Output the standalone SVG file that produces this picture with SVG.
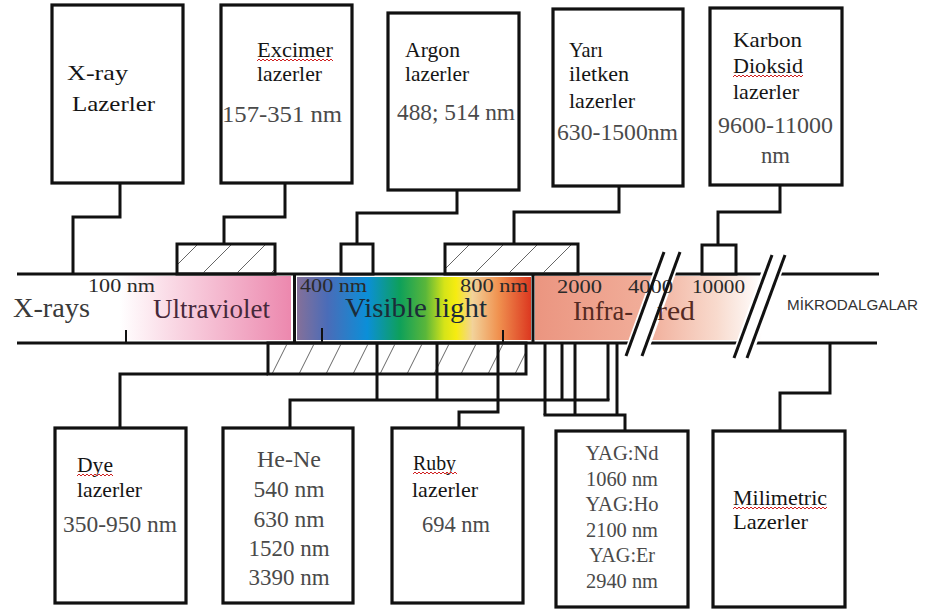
<svg xmlns="http://www.w3.org/2000/svg" width="929" height="609" viewBox="0 0 929 609" font-family="Liberation Serif, serif">
<style>
.box{fill:#fff;stroke:#111;stroke-width:3.2}
.ln{fill:none;stroke:#111;stroke-width:3}
.tk{fill:none;stroke:#111;stroke-width:2}
.sl{fill:none;stroke:#111;stroke-width:3}
.lb{font-size:21px;fill:#151515}
.nm{font-size:23px;fill:#4a4a4a}
.sm{font-size:19px;fill:#2a2a2a}
.bd{font-size:27px}
.sq{fill:none;stroke:#d02020;stroke-width:1}
</style>
<defs>
<linearGradient id="uv" x1="120" y1="0" x2="291" y2="0" gradientUnits="userSpaceOnUse">
<stop offset="0" stop-color="#ffffff"/><stop offset="0.35" stop-color="#f9d3e1"/><stop offset="1" stop-color="#ec88ae"/>
</linearGradient>
<linearGradient id="vis" x1="297" y1="0" x2="531" y2="0" gradientUnits="userSpaceOnUse">
<stop offset="0" stop-color="#857099"/><stop offset="0.13" stop-color="#4a6cb8"/><stop offset="0.3" stop-color="#0b8fd8"/><stop offset="0.44" stop-color="#0ea05a"/><stop offset="0.55" stop-color="#5ab63a"/><stop offset="0.63" stop-color="#d6e418"/><stop offset="0.68" stop-color="#f6ec10"/><stop offset="0.75" stop-color="#f2d29a"/><stop offset="0.86" stop-color="#f09250"/><stop offset="1" stop-color="#dc3820"/>
</linearGradient>
<linearGradient id="ir" x1="535" y1="0" x2="762" y2="0" gradientUnits="userSpaceOnUse">
<stop offset="0" stop-color="#eb9580"/><stop offset="0.5" stop-color="#f1ae9a"/><stop offset="0.8" stop-color="#f8dacd"/><stop offset="1" stop-color="#ffffff"/>
</linearGradient>
<pattern id="hatchT" patternUnits="userSpaceOnUse" width="34" height="34">
<line x1="0" y1="34" x2="34" y2="0" stroke="#666" stroke-width="1"/>
</pattern>
<pattern id="hatchB" patternUnits="userSpaceOnUse" width="27" height="54">
<line x1="0" y1="54" x2="27" y2="0" stroke="#666" stroke-width="1"/>
</pattern>
</defs>

<rect width="929" height="609" fill="#fff"/>

<!-- spectrum band -->
<g id="band" font-family="Liberation Serif, serif">
<rect x="120" y="276" width="171" height="64" fill="url(#uv)"/>
<rect x="297" y="277" width="234" height="63" fill="url(#vis)"/>
<rect x="535" y="276" width="227" height="64" fill="url(#ir)"/>
<line class="ln" x1="17" y1="274" x2="879" y2="274"/>
<line class="ln" x1="17" y1="343" x2="877" y2="343"/>
<line class="ln" x1="294.5" y1="274" x2="294.5" y2="343"/>
<line class="ln" x1="533" y1="274" x2="533" y2="343"/>
<line class="tk" x1="126" y1="330" x2="126" y2="343"/>
<line class="tk" x1="322" y1="328" x2="322" y2="342"/>
<line class="tk" x1="503" y1="330" x2="503" y2="342"/>
<polygon points="622,358 661,250 684,250 646,358" fill="#fff"/>
<polygon points="730,360 768,253 789,253 751,360" fill="#fff"/>
<text x="13" y="317" class="bd" fill="#3a3a3a" textLength="77" lengthAdjust="spacingAndGlyphs">X-rays</text>
<text x="88" y="292" class="sm" textLength="67" lengthAdjust="spacingAndGlyphs">100 nm</text>
<text x="153" y="318" class="bd" fill="#46283a" textLength="117" lengthAdjust="spacingAndGlyphs">Ultraviolet</text>
<text x="300" y="292" class="sm" textLength="67" lengthAdjust="spacingAndGlyphs">400 nm</text>
<text x="345" y="317" class="bd" fill="#1c2c38" textLength="142" lengthAdjust="spacingAndGlyphs">Visible light</text>
<text x="460" y="292" class="sm" textLength="68" lengthAdjust="spacingAndGlyphs">800 nm</text>
<text x="557" y="293" class="sm" fill="#3a3030" textLength="45" lengthAdjust="spacingAndGlyphs">2000</text>
<text x="628" y="293" class="sm" fill="#3a3030" textLength="45" lengthAdjust="spacingAndGlyphs">4000</text>
<text x="692" y="293" class="sm" fill="#3a3030" textLength="53" lengthAdjust="spacingAndGlyphs">10000</text>
<text x="573" y="320" class="bd" fill="#552a22"><tspan textLength="60" lengthAdjust="spacingAndGlyphs">Infra-</tspan><tspan x="657" textLength="38" lengthAdjust="spacingAndGlyphs">red</tspan></text>
<text x="787" y="310" font-family="Liberation Sans, sans-serif" font-size="15" fill="#333" textLength="131" lengthAdjust="spacingAndGlyphs">MİKRODALGALAR</text>
<line class="sl" x1="626" y1="356" x2="664" y2="252"/>
<line class="sl" x1="642" y1="356" x2="680" y2="252"/>
<line class="sl" x1="734" y1="358" x2="772" y2="255"/>
<line class="sl" x1="747" y1="358" x2="785" y2="255"/>
</g>

<!-- connectors -->
<g id="connectors">
<polyline class="ln" points="120,183 120,217 73,217 73,274"/>
<polyline class="ln" points="285,183 285,217 224,217 224,244"/>
<polyline class="ln" points="457,190 457,213 357,213 357,244"/>
<polyline class="ln" points="619,186 619,212 514,212 514,244"/>
<polyline class="ln" points="780,185 780,212 718,212 718,245"/>
<rect x="177" y="244" width="98" height="30" fill="url(#hatchT)" stroke="#111" stroke-width="3"/>
<rect x="341" y="244" width="32" height="30" fill="#fff" stroke="#111" stroke-width="3"/>
<rect x="445" y="244" width="133" height="30" fill="url(#hatchT)" stroke="#111" stroke-width="3"/>
<rect x="702" y="245" width="34" height="29" fill="#fff" stroke="#111" stroke-width="3"/>

<rect x="268" y="343" width="258" height="31" fill="url(#hatchB)" stroke="#111" stroke-width="3"/>
<polyline class="ln" points="120,428 120,374 268,374"/>
<line class="ln" x1="377" y1="343" x2="377" y2="400"/>
<line class="ln" x1="437" y1="343" x2="437" y2="400"/>
<line class="ln" x1="562" y1="343" x2="562" y2="400"/>
<line class="ln" x1="608" y1="343" x2="608" y2="400"/>
<polyline class="ln" points="290,428 290,400 609.5,400"/>
<polyline class="ln" points="498,343 498,412 459,412 459,428"/>
<line class="ln" x1="545" y1="343" x2="545" y2="415"/>
<line class="ln" x1="575" y1="343" x2="575" y2="415"/>
<line class="ln" x1="617" y1="343" x2="617" y2="415"/>
<polyline class="ln" points="543.5,415 625,415 625,431"/>
<polyline class="ln" points="830,343 830,393 780,393 780,431"/>
</g>

<!-- top boxes -->
<g id="xray-lasers" font-family="Liberation Serif, serif">
<rect class="box" x="52" y="5" width="131" height="178"/>
<text x="67" y="80" class="lb" font-size="22" style="font-size:22px" textLength="61" lengthAdjust="spacingAndGlyphs">X-ray</text>
<text x="72" y="111" class="lb" style="font-size:22px" textLength="83" lengthAdjust="spacingAndGlyphs">Lazerler</text>
</g>
<g id="excimer-lasers" font-family="Liberation Serif, serif">
<rect class="box" x="221" y="5" width="131" height="178"/>
<text x="257" y="57" class="lb" textLength="76" lengthAdjust="spacingAndGlyphs">Excimer</text>
<polyline class="sq" points="257,61 259,59 261,61 263,59 265,61 267,59 269,61 271,59 273,61 275,59 277,61 279,59 281,61 283,59 285,61 287,59 289,61 291,59 293,61 295,59 297,61 299,59 301,61 303,59 305,61 307,59 309,61 311,59 313,61 315,59 317,61 319,59 321,61 323,59 325,61 327,59 329,61 331,59 333,61"/>
<text x="257" y="81" class="lb" textLength="65" lengthAdjust="spacingAndGlyphs">lazerler</text>
<text x="222" y="122" class="nm" textLength="120" lengthAdjust="spacingAndGlyphs">157-351 nm</text>
</g>
<g id="argon-lasers" font-family="Liberation Serif, serif">
<rect class="box" x="388" y="13" width="131" height="177"/>
<text x="405" y="57" class="lb" textLength="55" lengthAdjust="spacingAndGlyphs">Argon</text>
<text x="405" y="81" class="lb" textLength="64" lengthAdjust="spacingAndGlyphs">lazerler</text>
<text x="397" y="120" class="nm" textLength="118" lengthAdjust="spacingAndGlyphs">488; 514 nm</text>
</g>
<g id="semiconductor-lasers" font-family="Liberation Serif, serif">
<rect class="box" x="553" y="9" width="130" height="177"/>
<text x="569" y="57" class="lb" textLength="34" lengthAdjust="spacingAndGlyphs">Yarı</text>
<text x="569" y="81" class="lb" textLength="60" lengthAdjust="spacingAndGlyphs">iletken</text>
<text x="569" y="108" class="lb" textLength="66" lengthAdjust="spacingAndGlyphs">lazerler</text>
<text x="557" y="140" class="nm" textLength="121" lengthAdjust="spacingAndGlyphs">630-1500nm</text>
</g>
<g id="co2-lasers" font-family="Liberation Serif, serif">
<rect class="box" x="710" y="8" width="132" height="177"/>
<text x="733" y="47" class="lb" textLength="69" lengthAdjust="spacingAndGlyphs">Karbon</text>
<text x="733" y="73" class="lb" textLength="70" lengthAdjust="spacingAndGlyphs">Dioksid</text>
<polyline class="sq" points="733,77 735,75 737,77 739,75 741,77 743,75 745,77 747,75 749,77 751,75 753,77 755,75 757,77 759,75 761,77 763,75 765,77 767,75 769,77 771,75 773,77 775,75 777,77 779,75 781,77 783,75 785,77 787,75 789,77 791,75 793,77 795,75 797,77 799,75 801,77 803,75"/>
<text x="733" y="99" class="lb" textLength="66" lengthAdjust="spacingAndGlyphs">lazerler</text>
<text x="718" y="133" class="nm" textLength="115" lengthAdjust="spacingAndGlyphs">9600-11000</text>
<text x="761" y="163" class="nm" textLength="29" lengthAdjust="spacingAndGlyphs">nm</text>
</g>

<!-- bottom boxes -->
<g id="dye-lasers" font-family="Liberation Serif, serif">
<rect class="box" x="55" y="428" width="131" height="175"/>
<text x="77" y="472" class="lb" textLength="36" lengthAdjust="spacingAndGlyphs">Dye</text>
<polyline class="sq" points="77,476 79,474 81,476 83,474 85,476 87,474 89,476 91,474 93,476 95,474 97,476 99,474 101,476 103,474 105,476 107,474 109,476 111,474 113,476"/>
<text x="77" y="497" class="lb" textLength="65" lengthAdjust="spacingAndGlyphs">lazerler</text>
<text x="63" y="532" class="nm" textLength="114" lengthAdjust="spacingAndGlyphs">350-950 nm</text>
</g>
<g id="hene-lasers" font-family="Liberation Serif, serif">
<rect class="box" x="223" y="428" width="130" height="175"/>
<text x="289" y="467" class="nm" text-anchor="middle" textLength="64" lengthAdjust="spacingAndGlyphs">He-Ne</text>
<text x="289" y="497" class="nm" text-anchor="middle" textLength="71" lengthAdjust="spacingAndGlyphs">540 nm</text>
<text x="289" y="527" class="nm" text-anchor="middle" textLength="71" lengthAdjust="spacingAndGlyphs">630 nm</text>
<text x="289" y="556" class="nm" text-anchor="middle" textLength="81" lengthAdjust="spacingAndGlyphs">1520 nm</text>
<text x="289" y="585" class="nm" text-anchor="middle" textLength="81" lengthAdjust="spacingAndGlyphs">3390 nm</text>
</g>
<g id="ruby-lasers" font-family="Liberation Serif, serif">
<rect class="box" x="392" y="428" width="131" height="175"/>
<text x="413" y="470" class="lb" textLength="43" lengthAdjust="spacingAndGlyphs">Ruby</text>
<polyline class="sq" points="413,474 415,472 417,474 419,472 421,474 423,472 425,474 427,472 429,474 431,472 433,474 435,472 437,474 439,472 441,474 443,472 445,474 447,472 449,474 451,472 453,474 455,472 457,474"/>
<text x="412" y="497" class="lb" textLength="66" lengthAdjust="spacingAndGlyphs">lazerler</text>
<text x="422" y="532" class="nm" textLength="68" lengthAdjust="spacingAndGlyphs">694 nm</text>
</g>
<g id="yag-lasers" font-family="Liberation Serif, serif">
<rect class="box" x="556" y="431" width="132" height="176"/>
<text x="622" y="460" class="nm" style="font-size:21px" text-anchor="middle" textLength="73" lengthAdjust="spacingAndGlyphs">YAG:Nd</text>
<text x="622" y="486" class="nm" style="font-size:21px" text-anchor="middle" textLength="72" lengthAdjust="spacingAndGlyphs">1060 nm</text>
<text x="622" y="511" class="nm" style="font-size:21px" text-anchor="middle" textLength="73" lengthAdjust="spacingAndGlyphs">YAG:Ho</text>
<text x="622" y="537" class="nm" style="font-size:21px" text-anchor="middle" textLength="72" lengthAdjust="spacingAndGlyphs">2100 nm</text>
<text x="622" y="562" class="nm" style="font-size:21px" text-anchor="middle" textLength="66" lengthAdjust="spacingAndGlyphs">YAG:Er</text>
<text x="622" y="588" class="nm" style="font-size:21px" text-anchor="middle" textLength="72" lengthAdjust="spacingAndGlyphs">2940 nm</text>
</g>
<g id="millimetric-lasers" font-family="Liberation Serif, serif">
<rect class="box" x="713" y="431" width="132" height="176"/>
<text x="733" y="505" class="lb" textLength="94" lengthAdjust="spacingAndGlyphs">Milimetric</text>
<polyline class="sq" points="733,509 735,507 737,509 739,507 741,509 743,507 745,509 747,507 749,509 751,507 753,509 755,507 757,509 759,507 761,509 763,507 765,509 767,507 769,509 771,507 773,509 775,507 777,509 779,507 781,509 783,507 785,509 787,507 789,509 791,507 793,509 795,507 797,509 799,507 801,509 803,507 805,509 807,507 809,509 811,507 813,509 815,507 817,509 819,507 821,509 823,507 825,509 827,507"/>
<text x="733" y="529" class="lb" textLength="75" lengthAdjust="spacingAndGlyphs">Lazerler</text>
</g>
</svg>
